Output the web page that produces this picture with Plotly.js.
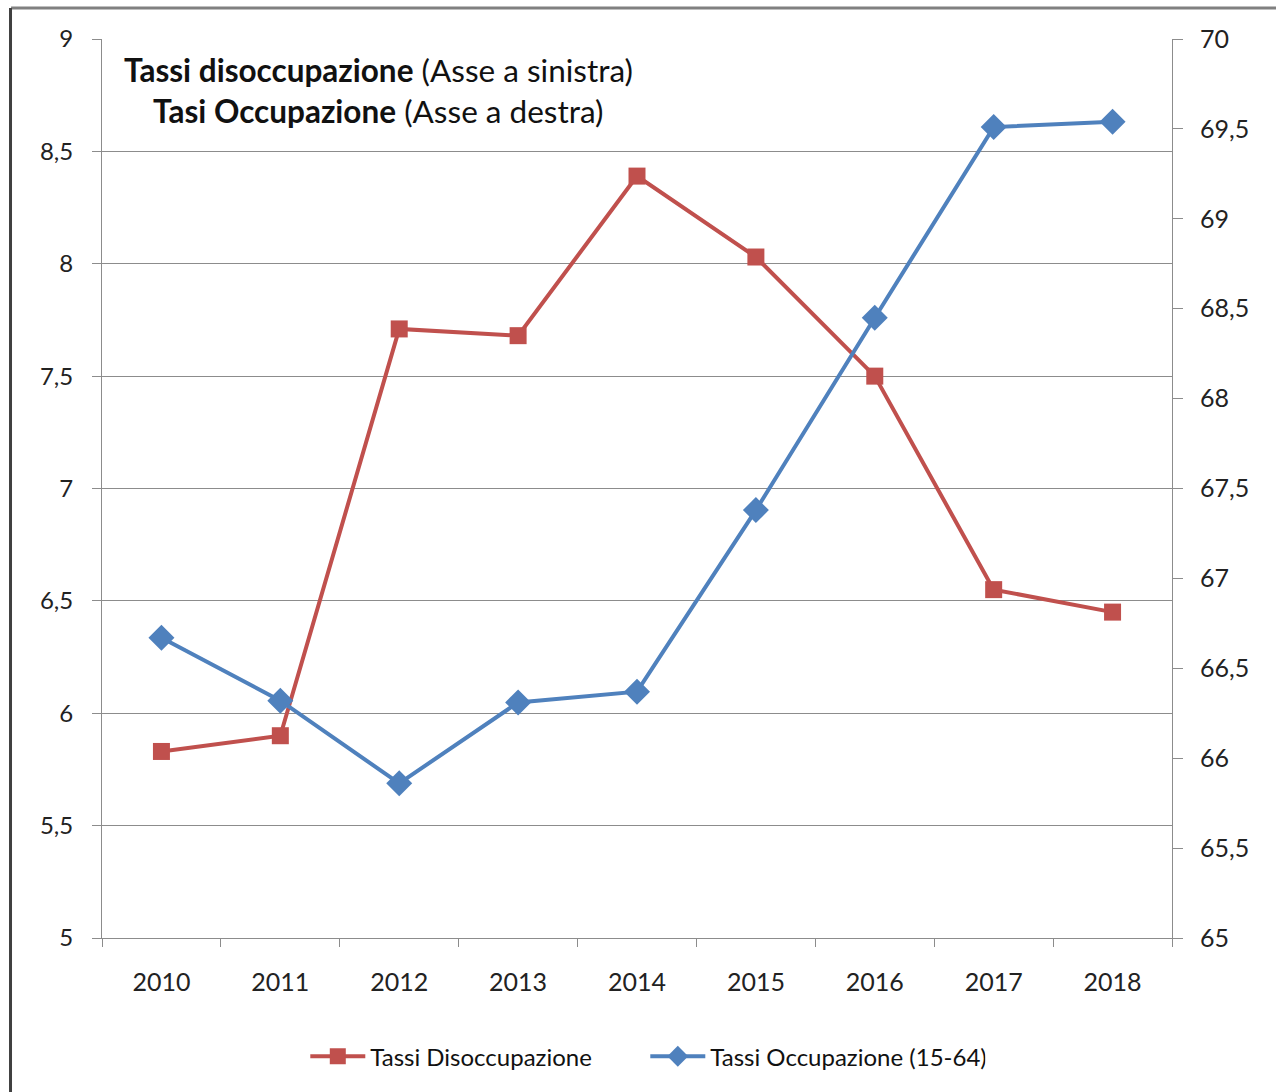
<!DOCTYPE html>
<html>
<head>
<meta charset="utf-8">
<script src="https://cdn.plot.ly/plotly-3.0.1.min.js"></script>
<style>
html,body{margin:0;padding:0;background:#fff;}
#chart{width:1276px;height:1092px;}
</style>
</head>
<body>
<div id="chart"></div>
<script>
var years = ['2010','2011','2012','2013','2014','2015','2016','2017','2018'];
var disoccupazione = [5.83, 5.90, 7.71, 7.68, 8.39, 8.03, 7.50, 6.55, 6.45];
var occupazione = [66.67, 66.32, 65.86, 66.31, 66.37, 67.38, 68.45, 69.51, 69.54];
var leftTicks = [5, 5.5, 6, 6.5, 7, 7.5, 8, 8.5, 9];
var rightTicks = [65, 65.5, 66, 66.5, 67, 67.5, 68, 68.5, 69, 69.5, 70];

var FONT = 'Lato, "Open Sans", sans-serif';
var GRID = '#8c8c8c';

var traces = [
  {
    x: years, y: disoccupazione, name: 'Tassi Disoccupazione',
    type: 'scatter', mode: 'lines+markers', yaxis: 'y',
    line: {color: '#C0504D', width: 4},
    marker: {symbol: 'square', size: 17, color: '#C0504D'}
  },
  {
    x: years, y: occupazione, name: 'Tassi Occupazione (15-64)',
    type: 'scatter', mode: 'lines+markers', yaxis: 'y2',
    line: {color: '#4F81BD', width: 4},
    marker: {symbol: 'diamond', size: 20, color: '#4F81BD'}
  }
];

var layout = {
  width: 1276, height: 1092,
  margin: {l: 102, r: 104, t: 39, b: 154},
  paper_bgcolor: '#fff', plot_bgcolor: '#fff',
  separators: ',.',
  font: {family: FONT, size: 25, color: '#222'},
  showlegend: true,
  legend: {
    orientation: 'h', x: 0.19, xanchor: 'left', y: -0.132, yanchor: 'middle',
    font: {family: FONT, size: 24, color: '#111'},
    itemwidth: 55,
    entrywidth: 270, entrywidthmode: 'pixels', tracegroupgap: 0
  },
  xaxis: {
    type: 'category', tickson: 'boundaries',
    showline: true, linecolor: GRID, linewidth: 1,
    ticks: 'outside', ticklen: 8, tickcolor: GRID,
    showgrid: false, zeroline: false, ticklabelstandoff: 22,
    tickfont: {family: FONT, size: 25, color: '#222'},
    range: [-0.5, 8.5]
  },
  yaxis: {
    range: [5, 9], tickvals: leftTicks,
    ticktext: leftTicks.map(function(v){return String(v).replace('.', ',');}),
    showline: true, linecolor: GRID, linewidth: 1,
    ticks: 'outside', ticklen: 9, tickcolor: GRID,
    showgrid: true, gridcolor: GRID, gridwidth: 1,
    zeroline: false, ticklabelstandoff: 14,
    tickfont: {family: FONT, size: 24, color: '#222'}
  },
  yaxis2: {
    range: [65, 70], tickvals: rightTicks,
    ticktext: rightTicks.map(function(v){return String(v).replace('.', ',');}),
    overlaying: 'y', side: 'right',
    showline: true, linecolor: GRID, linewidth: 1,
    ticks: 'outside', ticklen: 10, tickcolor: GRID,
    showgrid: false, zeroline: false, ticklabelstandoff: 12,
    tickfont: {family: FONT, size: 25, color: '#222'}
  },
  annotations: [
    {
      xref: 'paper', yref: 'paper', x: 0.258, y: 0.965, xanchor: 'center', yanchor: 'middle',
      showarrow: false, align: 'center',
      text: '<b>Tassi disoccupazione</b> (Asse a sinistra)',
      font: {family: FONT, size: 31.5, color: '#111'}
    },
    {
      xref: 'paper', yref: 'paper', x: 0.258, y: 0.92, xanchor: 'center', yanchor: 'middle',
      showarrow: false, align: 'center',
      text: '<b>Tasi Occupazione</b> (Asse a destra)',
      font: {family: FONT, size: 31.5, color: '#111'}
    }
  ],
  shapes: [
    {type: 'line', xref: 'paper', yref: 'paper', x0: -0.085, x1: 1.1, y0: 1.0345, y1: 1.0345,
     line: {color: '#808080', width: 3}},
    {type: 'line', xref: 'paper', yref: 'paper', x0: -0.0855, x1: -0.0855, y0: 1.0345, y1: -0.2,
     line: {color: '#404040', width: 3}}
  ]
};

Plotly.newPlot('chart', traces, layout, {displayModeBar: false, staticPlot: true});
</script>
</body>
</html>
